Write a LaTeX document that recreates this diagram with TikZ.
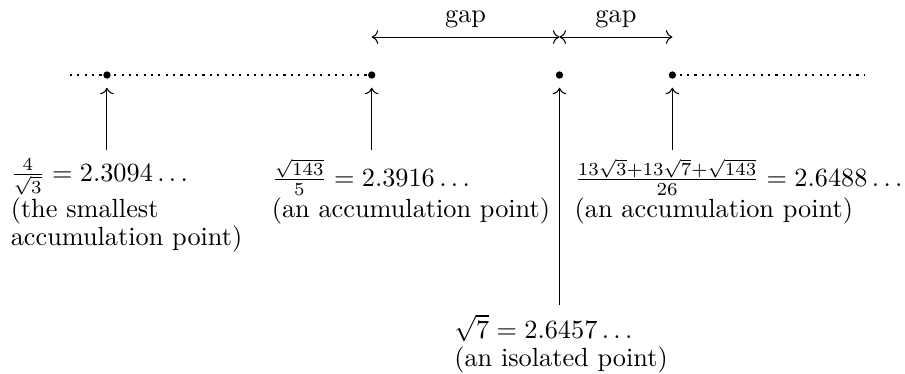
\documentclass[tikz,border=0pt]{standalone}
\usepackage{amsmath}
\usetikzlibrary{arrows.meta,positioning,calc}

\begin{document}
\begin{tikzpicture}[
  pt/.style={circle, fill=black, inner sep=0, minimum size=2.8pt},
  lbl/.style={anchor=north west, align=left, inner sep=3.33pt, font={\linespread{0.88}\selectfont}},
  gapline/.style={<->},
  ray/.style={->, shorten >=0.17cm}
]
  \useasboundingbox (0,0) rectangle (12.10,-4.99);
  % points on the line
  \node[pt] (a) at (1.430,-1.003) {};
  \node[pt, right=3.54cm of a.center, anchor=center] (b) {};
  \node[pt, right=2.51cm of b.center, anchor=center] (c) {};
  \node[pt, right=1.51cm of c.center, anchor=center] (d) {};
  \coordinate (left) at (0.936,-1.003);
  \coordinate (right) at (11.564,-1.003);
  \draw[thick, dotted] (left) -- (a.center) -- (b.center);
  \draw[thick, dotted] (d.center) -- (right);
  % gaps
  \coordinate (gb) at ($(b)+(0,0.508)$);
  \coordinate (gc) at ($(c)+(0,0.508)$);
  \coordinate (gd) at ($(d)+(0,0.508)$);
  \draw[gapline] (gb) -- node[above] {gap} (gc);
  \draw[gapline] (gc) -- node[above] {gap} (gd);
  % labels
  \node[lbl] (la) at (0.02,-2.0) {$\frac{4}{\sqrt{3}} = 2.3094\ldots$\\(the smallest\\accumulation point)};
  \node[lbl] (lb) at (3.51,-2.0) {$\frac{\sqrt{143}}{5} = 2.3916\ldots$\\(an accumulation point)};
  \node[lbl] (ld) at (7.56,-2.0) {$\frac{13\sqrt{3}+13\sqrt{7}+\sqrt{143}}{26} = 2.6488\ldots$\\(an accumulation point)};
  \node[lbl] (lc) at (5.95,-4.08) {$\sqrt{7} = 2.6457\ldots$\\(an isolated point)};
  \draw[ray] (a |- la.north) -- (a.center);
  \draw[ray] (b |- lb.north) -- (b.center);
  \draw[ray] (d |- ld.north) -- (d.center);
  \draw[ray] (c |- lc.north) -- (c.center);
\end{tikzpicture}
\end{document}
